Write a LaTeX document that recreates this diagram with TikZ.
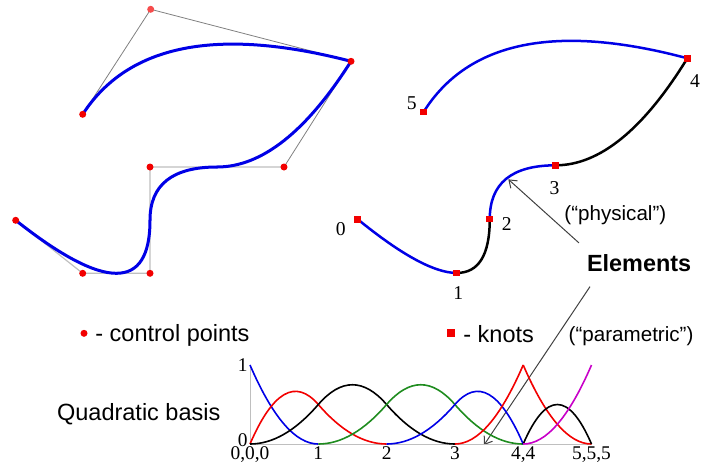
\documentclass[tikz,border=0pt]{standalone}
\usepackage{fontspec}
\setmainfont{Liberation Serif}
\setsansfont{Liberation Sans}
\usetikzlibrary{arrows.meta,positioning,calc}
\definecolor{Red}{HTML}{F20000}
\definecolor{Blue}{HTML}{0000E6}
\definecolor{Green}{HTML}{1F8C1F}
\definecolor{Magenta}{HTML}{C800C8}

% quadratic Bezier piece: start, control, end
\newcommand{\qseg}[4][]{\draw[#1] (#2) .. controls ($(#2)!2/3!(#3)$) and ($(#4)!2/3!(#3)$) .. (#4);}
\newcommand{\ctrllist}{0/15.7/220.3,1/82.7/273.3,2/150/273.3,3/150/167,4/284/167,5/351/61.3,6/150.7/9.3,7/82.7/114.3}

\begin{document}
\begin{tikzpicture}[x=0.5pt,y=-0.5pt,
  ctrlpt/.style={circle,fill=Red,inner sep=0pt,minimum size=3.5pt},
  knot/.style={rectangle,fill=Red,inner sep=0pt,minimum size=3.3pt},
  spline/.style={line width=1.5pt,draw=Blue,line cap=round},
  basis/.style={line width=0.8pt},
  polylo/.style={draw=black!25,line width=0.6pt},
  polyhi/.style={draw=black!50,line width=0.4pt},
  knotlbl/.style={font=\fontsize{9.8}{12}\selectfont,inner sep=0pt},
  ticklbl/.style={font=\fontsize{9.7}{12}\selectfont,inner sep=0pt},
  legend/.style={font=\sffamily\fontsize{11.75}{14}\selectfont,inner sep=0pt,anchor=base west},
  note/.style={font=\sffamily\fontsize{10.3}{12}\selectfont,inner sep=0pt,anchor=base west},
  link/.style={-{Straight Barb[length=3.5pt,width=5pt]},line width=0.5pt,draw=black!75}
]
\useasboundingbox (0,0) rectangle (702,468);

\foreach \i/\px/\py in \ctrllist {\coordinate (p\i) at (\px,\py);}
\begin{scope}[shift={(342.3,-3.8)},xscale=0.983,yscale=1.0126]
  \foreach \i/\px/\py in \ctrllist {\coordinate (q\i) at (\px,\py);}
\end{scope}
\coordinate (m12) at ($(p1)!0.5!(p2)$);
\coordinate (m23) at ($(p2)!0.5!(p3)$);
\coordinate (m34) at ($(p3)!0.5!(p4)$);
\coordinate (k1) at ($(q1)!0.5!(q2)$);
\coordinate (k2) at ($(q2)!0.5!(q3)$);
\coordinate (k3) at ($(q3)!0.5!(q4)$);

% control polygon and curve
\draw[polylo] (p0) -- (p1) -- (p2) -- (p3) -- (p4);
\draw[polyhi] (p4) -- (p5) -- (p6) -- (p7);
\qseg[spline]{p0}{p1}{m12}
\qseg[spline]{m12}{p2}{m23}
\qseg[spline]{m23}{p3}{m34}
\qseg[spline]{m34}{p4}{p5}
\qseg[spline]{p5}{p6}{p7}
\foreach \i in {0,1,2,3,4,5,7} {\node[ctrlpt] (cp\i) at (p\i) {};}
\node[ctrlpt,fill=Red!70!white] (cp6) at (p6) {};

% elements
\qseg[spline,line width=1.25pt]{q0}{q1}{k1}
\qseg[spline,line width=1.25pt,draw=black]{k1}{q2}{k2}
\qseg[spline,line width=1.25pt]{k2}{q3}{k3}
\qseg[spline,line width=1.25pt,draw=black]{k3}{q4}{q5}
\qseg[spline,line width=1.25pt]{q5}{q6}{q7}
\node[knot] (kn0) at (q0) {};
\node[knot] (kn1) at (k1) {};
\node[knot] (kn2) at (k2) {};
\node[knot] (kn3) at (k3) {};
\node[knot] (kn4) at (q5) {};
\node[knot] (kn5) at (q7) {};
\node[knotlbl] (lbl0) at ([shift={(-17,10)}]kn0) {0};
\node[knotlbl] (lbl1) at ([shift={(1.6,20)}]kn1) {1};
\node[knotlbl] (lbl2) at ([shift={(17,4.5)}]kn2) {2};
\node[knotlbl] (lbl3) at ([shift={(-1,23)}]kn3) {3};
\node[knotlbl] (lbl4) at ([shift={(7.7,22.4)}]kn4) {4};
\node[knotlbl] (lbl5) at ([shift={(-11.7,-8.7)}]kn5) {5};

\node[note,font=\sffamily\bfseries\fontsize{11.7}{14}\selectfont] (elements) at (586.7,271) {Elements};
\node[note] (physical) at (564,220) {(“physical”)};
\node[note] (parametric) at (568.3,341) {(“parametric”)};
\coordinate (phys) at (508.3,179.3);
\coordinate (param) at (484,445);
\draw[link] ([xshift=-3.85pt,yshift=5.35pt]elements.north west) -- (phys);
\draw[link] ([xshift=1.65pt,yshift=-7.5pt]elements.south west) -- (param);

% legend
\node[ctrlpt] (legdot) at (84,333.3) {};
\node[legend] (legctrl) at (95,341) {- control points};
\node[knot,minimum size=3.85pt] (legsq) at (451.2,332.9) {};
\node[legend] (legknot) at (463,342) {- knots};
\node[legend] (quadbasis) at (56.7,420.7) {Quadratic basis};

% basis functions
\begin{scope}[shift={(250,444)},x=34.15pt,y=39.5pt]
  \draw[black!25,line width=0.5pt] (0,1) -- (0,0) -- (5,0);
  \qseg[basis,Blue]{0,1}{0.5,0}{1,0}
  \qseg[basis,Red]{0,0}{0.5,1}{1,0.5}
  \qseg[basis,Red]{1,0.5}{1.5,0}{2,0}
  \qseg[basis,black]{0,0}{0.5,0}{1,0.5}
  \qseg[basis,black]{1,0.5}{1.5,1}{2,0.5}
  \qseg[basis,black]{2,0.5}{2.5,0}{3,0}
  \qseg[basis,Green]{1,0}{1.5,0}{2,0.5}
  \qseg[basis,Green]{2,0.5}{2.5,1}{3,0.5}
  \qseg[basis,Green]{3,0.5}{3.5,0}{4,0}
  \qseg[basis,Blue]{2,0}{2.5,0}{3,0.5}
  \qseg[basis,Blue]{3,0.5}{3.5,1}{4,0}
  \qseg[basis,Red]{3,0}{3.5,0}{4,1}
  \qseg[basis,Red]{4,1}{4.5,0}{5,0}
  \qseg[basis,black]{4,0}{4.5,1}{5,0}
  \qseg[basis,Magenta]{4,0}{4.5,0}{5,1}
  \foreach \t/\lab in {0/{0,0,0},1/1,2/2,3/3,4/{4,4},5/{5,5,5}}
    {\node[ticklbl,anchor=north] (tick\t) at ([yshift=-1pt]\t,0) {\lab};}
  \node[ticklbl,anchor=east] (yone) at ([xshift=-1pt]0,1) {1};
  \node[ticklbl,anchor=east] (yzero) at ([xshift=-1pt,yshift=2pt]0,0) {0};
\end{scope}
\end{tikzpicture}
\end{document}
